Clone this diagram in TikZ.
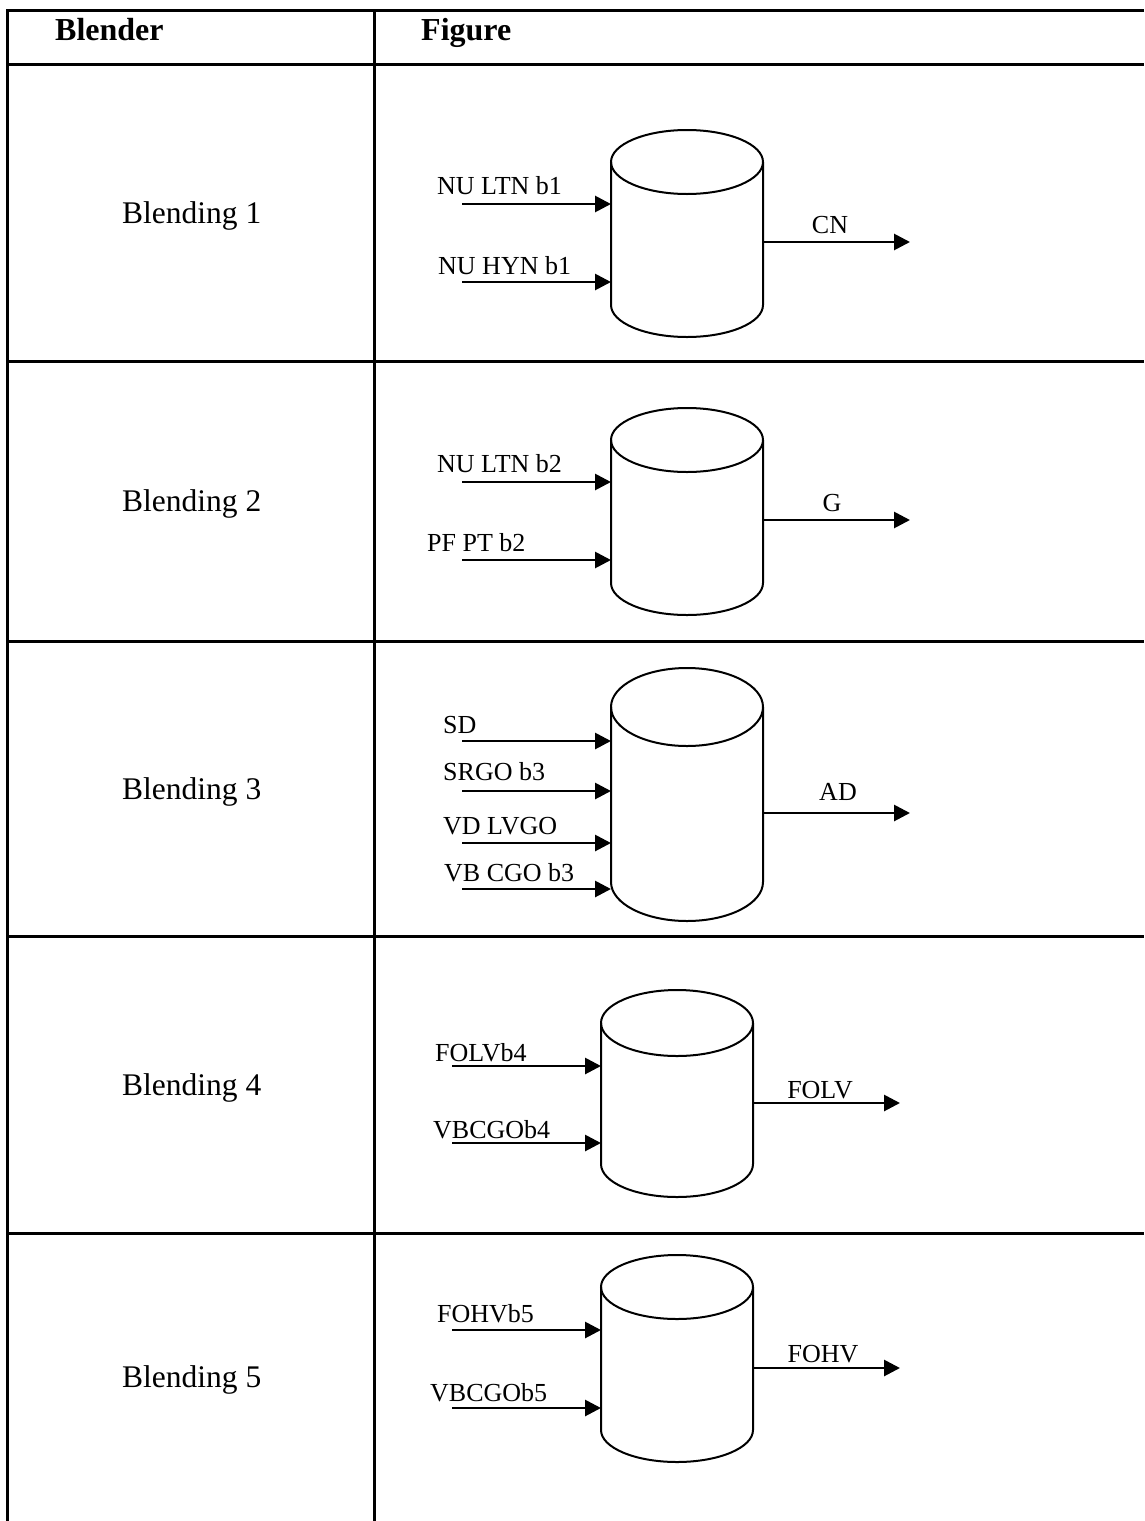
\documentclass[tikz,border=0pt]{standalone}
\usepackage{fontspec}
\setmainfont{Liberation Serif}
\usetikzlibrary{arrows.meta}
\tikzset{rule/.style={line width=3pt}}
\tikzset{tank/.style={%
        rectangle,
        minimum width=152pt,
        inner sep=0pt,outer sep=0pt}}
\tikzset{tank line/.style={line width=2pt}}
\tikzset{flow/.style={line width=2.8pt,-{Triangle[length=16pt,width=16pt]}}}
\tikzset{stream/.style={anchor=base west,inner sep=0pt,font=\fontsize{26}{30}\selectfont}}
\tikzset{product/.style={anchor=base,inner sep=0pt,font=\fontsize{26}{30}\selectfont}}
\tikzset{rowname/.style={anchor=base west,inner sep=0pt,font=\fontsize{31.5}{36}\selectfont}}
\tikzset{head/.style={anchor=base west,inner sep=0pt,font=\fontsize{32}{36}\selectfont\bfseries}}

\begin{document}
\begin{tikzpicture}[x=1pt,y=-1pt]
  \useasboundingbox (0,0) rectangle (1144,1521);
  % table
  \draw [rule] (1144,10) -- (7,10) -- (7,1521);
  \draw [rule] (374.5,10) -- (374.5,1521);
  \foreach \y in {64,361,641,936,1233}
    \draw [rule] (7,\y) -- (1144,\y);
  \node [head] (hblend) at (55,40) {Blender};
  \node [head] (hfig) at (421,40) {Figure};
  \node [rowname] (r1) at (122,223) {Blending 1};
  \node [rowname] (r2) at (122,511) {Blending 2};
  \node [rowname] (r3) at (122,799) {Blending 3};
  \node [rowname] (r4) at (122,1095) {Blending 4};
  \node [rowname] (r5) at (122,1387) {Blending 5};

  % tanks
  \node [tank,minimum height=143pt] (tank1) at (687,233.5) {};
  \node [tank,minimum height=143pt] (tank2) at (687,511.5) {};
  \node [tank,minimum height=175pt] (tank3) at (687,794.5) {};
  \node [tank,minimum height=141pt] (tank4) at (677,1093.5) {};
  \node [tank,minimum height=143pt] (tank5) at (677,1358.5) {};
  \foreach \t/\ry in {1/32,2/32,3/39,4/33,5/32} {
    \draw [tank line] (tank\t.north west) -- (tank\t.south west)
      arc [start angle=180,end angle=0,x radius=76,y radius=\ry] -- (tank\t.north east);
    \draw [tank line] (tank\t.north) ellipse [x radius=76,y radius=\ry];
  }

  % blending 1
  \coordinate (s1a) at (462,204);
  \coordinate (s1b) at (462,282);
  \coordinate (p1) at (910,242);
  \draw [flow] (s1a) -- (s1a -| tank1.west);
  \draw [flow] (s1b) -- (s1b -| tank1.west);
  \draw [flow] (p1 -| tank1.east) -- (p1);
  \node [stream] (n1a) at (437,194) {NU LTN b1};
  \node [stream] (n1b) at (438,274) {NU HYN b1};
  \node [product] (m1) at (830,233) {CN};

  % blending 2
  \coordinate (s2a) at (462,482);
  \coordinate (s2b) at (462,560);
  \coordinate (p2) at (910,520);
  \draw [flow] (s2a) -- (s2a -| tank2.west);
  \draw [flow] (s2b) -- (s2b -| tank2.west);
  \draw [flow] (p2 -| tank2.east) -- (p2);
  \node [stream] (n2a) at (437,472) {NU LTN b2};
  \node [stream] (n2b) at (427,551) {PF PT b2};
  \node [product] (m2) at (832,511) {G};

  % blending 3
  \coordinate (s3a) at (462,741);
  \coordinate (s3b) at (462,791);
  \coordinate (s3c) at (462,843);
  \coordinate (s3d) at (462,889);
  \coordinate (p3) at (910,813);
  \foreach \s in {s3a,s3b,s3c,s3d}
    \draw [flow] (\s) -- (\s -| tank3.west);
  \draw [flow] (p3 -| tank3.east) -- (p3);
  \node [stream] (n3a) at (443,733) {SD};
  \node [stream] (n3b) at (443,780) {SRGO b3};
  \node [stream] (n3c) at (443,834) {VD LVGO};
  \node [stream] (n3d) at (444,881) {VB CGO b3};
  \node [product] (m3) at (838,800) {AD};

  % blending 4
  \coordinate (s4a) at (452,1066);
  \coordinate (s4b) at (452,1143);
  \coordinate (p4) at (900,1103);
  \draw [flow] (s4a) -- (s4a -| tank4.west);
  \draw [flow] (s4b) -- (s4b -| tank4.west);
  \draw [flow] (p4 -| tank4.east) -- (p4);
  \node [stream] (n4a) at (435,1061) {FOLVb4};
  \node [stream] (n4b) at (433,1138) {VBCGOb4};
  \node [product] (m4) at (820,1098) {FOLV};

  % blending 5
  \coordinate (s5a) at (452,1330);
  \coordinate (s5b) at (452,1408);
  \coordinate (p5) at (900,1368);
  \draw [flow] (s5a) -- (s5a -| tank5.west);
  \draw [flow] (s5b) -- (s5b -| tank5.west);
  \draw [flow] (p5 -| tank5.east) -- (p5);
  \node [stream] (n5a) at (437,1322) {FOHVb5};
  \node [stream] (n5b) at (430,1401) {VBCGOb5};
  \node [product] (m5) at (823,1362) {FOHV};
\end{tikzpicture}
\end{document}
